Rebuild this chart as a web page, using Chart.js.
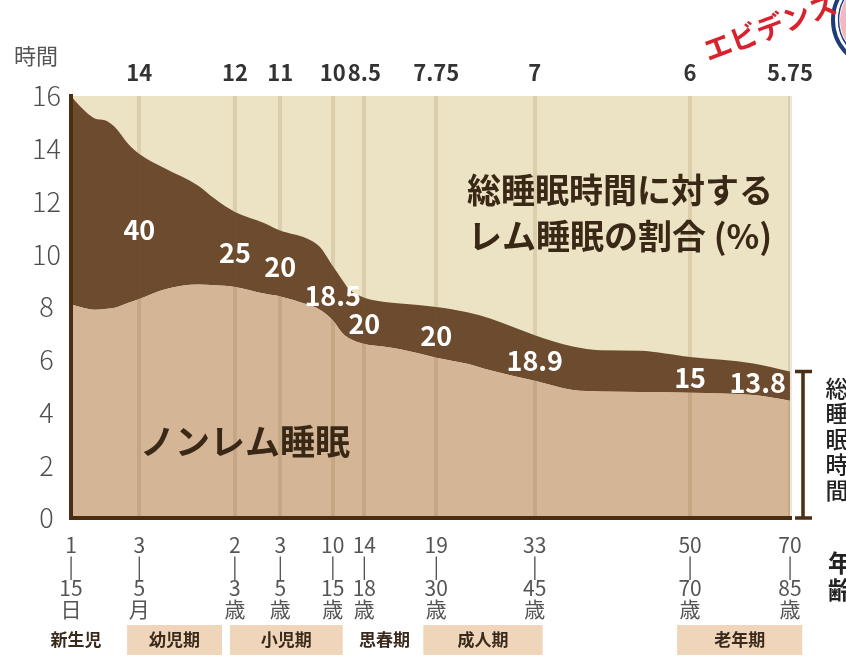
<!DOCTYPE html>
<html lang="ja">
<head>
<meta charset="utf-8">
<script src="https://cdn.jsdelivr.net/npm/chart.js@4.4.1/dist/chart.umd.min.js"></script>
<style>
html,body{margin:0;padding:0;background:#fff;}
</style>
</head>
<body>
<canvas id="sleep_chart" width="846" height="657"></canvas>
<script>
// age groups along the bottom
var age_labels = [
	["1","|","15","日"], ["3","|","5","月"], ["2","|","3","歳"], ["3","|","5","歳"],
	["10","|","15","歳"], ["14","|","18","歳"], ["19","|","30","歳"], ["33","|","45","歳"],
	["50","|","70","歳"], ["70","|","85","歳"]
];
// total sleep hours written on top
var top_labels = ["", "14", "12", "11", "10", "8.5", "7.75", "7", "6", "5.75"];
// where each age group sits on the (uneven) age axis
var group_pos = [0, 9.5, 22.8, 29.1, 36.4, 40.8, 50.8, 64.5, 86.1, 100];
// REM share of total sleep (%), groups 2..10
var rem_pct = ["40", "25", "20", "18.5", "20", "20", "18.9", "15", "13.8"];

// curve samples
var sample_pos  = [0, 1.3, 3.3, 4.7, 6.1, 7.9, 9.5, 13.1, 17.7, 20.0, 22.8, 27.0, 29.1, 32.8, 34.6, 36.4, 37.8, 38.8, 40.8, 43.4, 45.8, 50.8, 55.1, 58.3, 64.5, 69.8, 73.6, 79.1, 86.1, 94.9, 100];
var total_hours = [16, 15.6, 15.15, 15.08, 14.82, 14.2, 13.8, 13.25, 12.6, 12.1, 11.6, 11.17, 10.9, 10.6, 10.28, 9.55, 9.0, 8.64, 8.35, 8.2, 8.13, 8.0, 7.8, 7.56, 6.93, 6.5, 6.36, 6.34, 6.1, 5.86, 5.55];
var nrem_hours  = [8.1, 8.0, 7.9, 7.92, 7.97, 8.15, 8.3, 8.67, 8.85, 8.82, 8.76, 8.5, 8.4, 8.1, 7.9, 7.5, 7.0, 6.8, 6.6, 6.5, 6.4, 6.08, 5.85, 5.6, 5.2, 4.85, 4.8, 4.78, 4.75, 4.66, 4.45];

// life stage bands under the axis: [text, from, to, boxed]
var stage_bands = [
	["新生児", -2.6, 4.0, false],
	["幼児期", 7.8, 21.0, true],
	["小児期", 22.1, 37.8, true],
	["思春期", 40.1, 47.1, false],
	["成人期", 49.0, 65.6, true],
	["老年期", 84.3, 101.7, true]
];

var FONT = '"Noto Sans CJK JP", "Noto Sans", sans-serif';
var STRIPE = 'rgba(120,90,40,0.15)';

function interp(xs, ys, x){
	if (x <= xs[0]) return ys[0];
	for (var i = 1; i < xs.length; i++) {
		if (x <= xs[i]) {
			var t = (x - xs[i-1]) / (xs[i] - xs[i-1]);
			return ys[i-1] + t * (ys[i] - ys[i-1]);
		}
	}
	return ys[ys.length-1];
}

function pts(ys){
	return sample_pos.map(function(x, i){ return {x: x, y: ys[i]}; });
}

var deco_plugin = {
	id: 'deco',
	beforeDraw: function(chart){
		var a = chart.chartArea, c = chart.ctx;
		c.save();
		c.fillStyle = '#ebe3c4';
		c.fillRect(a.left, a.top, a.right - a.left, a.bottom - a.top);
		c.restore();
	},
	afterDraw: function(chart){
		var a = chart.chartArea, c = chart.ctx;
		var xs = chart.scales.x, ys = chart.scales.y;
		c.save();
		c.textBaseline = 'middle';

		// REM percentages in the band
		c.fillStyle = '#fff';
		c.font = 'bold 27px ' + FONT;
		c.textAlign = 'center';
		for (var i = 0; i < rem_pct.length; i++) {
			var u = group_pos[i+1];
			var px = xs.getPixelForValue(u);
			var w = c.measureText(rem_pct[i]).width;
			if (px + w/2 > a.right - 4) {
				px = a.right - 4 - w/2;
				u = xs.getValueForPixel(px);
			}
			var yt = ys.getPixelForValue(interp(sample_pos, total_hours, u));
			var yb = ys.getPixelForValue(interp(sample_pos, nrem_hours, u));
			c.fillText(rem_pct[i], px, (yt + yb)/2 + 3);
		}

		// captions in the plot
		c.fillStyle = '#3a2816';
		c.font = 'bold 34px ' + FONT;
		c.fillText('総睡眠時間に対する', 620, 190);
		c.fillText('レム睡眠の割合 (%)', 620, 236);
		c.font = 'bold 35px ' + FONT;
		c.textAlign = 'left';
		c.fillText('ノンレム睡眠', 140, 442);

		// y unit
		c.fillStyle = '#555';
		c.font = '22px ' + FONT;
		c.fillText('時間', 14, 56);

		// stage bands
		c.font = 'bold 17px ' + FONT;
		c.textAlign = 'center';
		stage_bands.forEach(function(b){
			var x0 = xs.getPixelForValue(b[1]), x1 = xs.getPixelForValue(b[2]);
			if (b[3]) {
				c.fillStyle = '#efd6ba';
				c.fillRect(x0, 625, x1 - x0, 30);
			}
			c.fillStyle = '#3a2a1c';
			c.fillText(b[0], (x0 + x1)/2, 640);
		});

		// bracket for total sleep at the last group
		var bx = a.right + 13;
		var bt = ys.getPixelForValue(total_hours[total_hours.length-1]);
		var bb = ys.getPixelForValue(0);
		c.strokeStyle = '#4b2e14';
		c.lineWidth = 3.5;
		c.beginPath();
		c.moveTo(bx, bt); c.lineTo(bx, bb);
		c.moveTo(bx - 8, bt); c.lineTo(bx + 9, bt);
		c.moveTo(bx - 8, bb); c.lineTo(bx + 9, bb);
		c.stroke();

		c.fillStyle = '#222';
		c.font = '500 23px ' + FONT;
		'総睡眠時間'.split('').forEach(function(ch, k){
			c.fillText(ch, 837, 388 + k*25.5);
		});
		c.font = 'bold 24px ' + FONT;
		c.fillText('年', 840, 563);
		c.fillText('齢', 840, 590);

		// badge in the corner
		c.beginPath(); c.arc(880, 20, 40, 0, Math.PI*2); c.fillStyle = '#f4b8c3'; c.fill();
		c.beginPath(); c.arc(880, 20, 41.5, 0, Math.PI*2); c.strokeStyle = '#1d3c78'; c.lineWidth = 1.5; c.stroke();
		c.beginPath(); c.arc(880, 20, 44, 0, Math.PI*2); c.strokeStyle = '#fff'; c.lineWidth = 3; c.stroke();
		c.beginPath(); c.arc(880, 20, 47, 0, Math.PI*2); c.strokeStyle = '#1d3c78'; c.lineWidth = 4; c.stroke();

		c.translate(770, 27);
		c.rotate(-0.36);
		c.fillStyle = '#d8232e';
		c.font = 'bold 28px ' + FONT;
		c.fillText('エビデンス', 0, 0);
		c.restore();
	}
};

var ctx = document.getElementById('sleep_chart');

var sleep_chart = new Chart(ctx, {
	type: 'line',
	data: {
		datasets: [{
			label: 'ノンレム睡眠',
			data: pts(nrem_hours),
			fill: 'origin',
			backgroundColor: '#d4b595',
			borderColor: 'rgba(0,0,0,0)',
			borderWidth: 1,
			pointRadius: 0,
			cubicInterpolationMode: 'monotone'
		}, {
			label: '総睡眠時間',
			data: pts(total_hours),
			fill: '-1',
			backgroundColor: '#6d4b2f',
			borderColor: 'rgba(0,0,0,0)',
			borderWidth: 1,
			pointRadius: 0,
			cubicInterpolationMode: 'monotone'
		}]
	},
	options: {
		responsive: false,
		animation: false,
		layout: { padding: { top: 0, right: 56, bottom: 0, left: 0 } },
		plugins: {
			legend: { display: false },
			tooltip: { enabled: false }
		},
		scales: {
			x: {
				type: 'linear',
				position: 'bottom',
				min: 0,
				max: 100,
				afterBuildTicks: function(s){ s.ticks = group_pos.map(function(v){ return {value: v}; }); },
				afterFit: function(s){ s.height = 139; },
				grid: {
					z: 1,
					lineWidth: 4,
					drawTicks: false,
					color: function(g){ return g.index === 0 ? 'rgba(0,0,0,0)' : STRIPE; }
				},
				border: { z: 1, color: '#4b2e12', width: 4 },
				ticks: {
					autoSkip: false,
					maxRotation: 0,
					minRotation: 0,
					padding: 16,
					color: '#555',
					font: { family: FONT, size: 21, lineHeight: 1.02 },
					callback: function(v, i){ return age_labels[i]; }
				}
			},
			xTop: {
				type: 'linear',
				axis: 'x',
				position: 'top',
				min: 0,
				max: 100,
				afterBuildTicks: function(s){ s.ticks = group_pos.map(function(v){ return {value: v}; }); },
				afterFit: function(s){ s.height = 96; },
				grid: { display: false, drawTicks: false },
				border: { display: false },
				ticks: {
					autoSkip: false,
					maxRotation: 0,
					minRotation: 0,
					padding: 10,
					color: '#333',
					font: { family: FONT, size: 22, weight: 'bold' },
					callback: function(v, i){ return top_labels[i]; }
				}
			},
			y: {
				min: 0,
				max: 16,
				afterFit: function(s){ s.width = 71; },
				grid: { display: false, drawTicks: false },
				border: { z: 1, color: '#4b2e12', width: 4 },
				ticks: {
					stepSize: 2,
					padding: 10,
					crossAlign: 'center',
					color: '#4e4e4e',
					font: { family: FONT, size: 27, weight: '300' }
				}
			}
		}
	},
	plugins: [deco_plugin]
});
</script>
</body>
</html>
